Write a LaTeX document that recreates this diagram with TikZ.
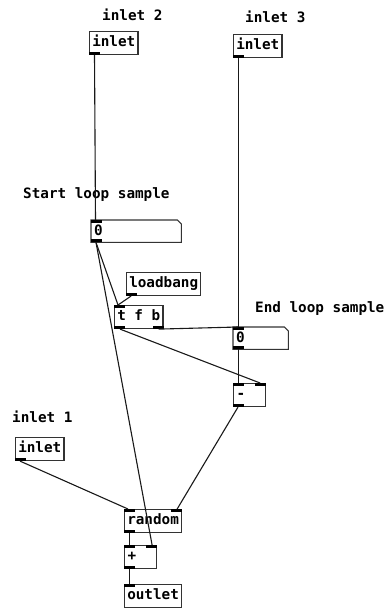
\documentclass[tikz,border=0pt]{standalone}
\usepackage{fontspec}
\usepackage{tikz}
\usetikzlibrary{calc}
\newfontfamily\pdfont{DejaVu Sans Mono}

\begin{document}
\begin{tikzpicture}
    [
        x=1pt, y=-1pt,
        pdtext/.style={font=\pdfont\bfseries\fontsize{14.3}{16}\selectfont, text=black},
        objbox/.style={pdtext, draw=black!80, line width=1.1pt, anchor=north west,
            inner xsep=2.7pt, inner ysep=0pt, minimum height=23pt, text height=11pt, text depth=3.5pt},
        numbox/.style={pdtext, anchor=north west, inner xsep=3pt, inner ysep=0pt, align=left,
            minimum height=22pt, text height=11pt, text depth=3pt},
        comment/.style={pdtext, anchor=west, inner sep=0pt},
        wire/.style={line width=1.1pt, black!90}
    ]
    \fill[white] (0,0) rectangle (385,608);
    \useasboundingbox (0,0) rectangle (385,608);

    % comments
    \node[comment] (c2) at (102,15) {inlet 2};
    \node[comment] (c3) at (245,17) {inlet 3};
    \node[comment] (cstart) at (23,195) {Start loop sample};
    \node[comment] (cend) at (255,309) {End loop sample};
    \node[comment] (c1) at (12,417) {inlet 1};

    % objects
    \node[objbox] (in2) at (89,31) {inlet};
    \node[objbox] (in3) at (233,34) {inlet};
    \node[numbox, text width=84pt] (numA) at (91,220) {0};
    \node[objbox] (lb) at (126,272) {loadbang};
    \node[objbox] (tfb) at (114,305) {t f b};
    \node[numbox, text width=49pt] (numB) at (233,327) {0};
    \node[objbox, minimum width=32pt, align=left, text width=26pt] (minus) at (233,383) {-};
    \node[objbox] (in1) at (15,437) {inlet};
    \node[objbox] (rnd) at (124,509) {random};
    \node[objbox, minimum width=32pt, align=left, text width=26pt] (plus) at (124,545) {+};
    \node[objbox] (out) at (124,584) {outlet};

    % number box outlines
    \foreach \n in {numA,numB}
        \draw[black!80, line width=1.1pt] (\n.north west) -- ($(\n.north east)+(-4,0)$)
            -- ($(\n.north east)+(0,4)$) -- (\n.south east) -- (\n.south west) -- cycle;

    % inlets and outlets
    \foreach \n in {numA,numB,tfb,minus,rnd,plus,out}
        \fill (\n.north west) rectangle ++(11,3);
    \foreach \n in {minus,rnd,plus}
        \fill (\n.north east) rectangle ++(-11,3);
    \foreach \n in {in1,in2,in3,numA,numB,lb,tfb,minus,rnd,plus}
        \fill (\n.south west) rectangle ++(11,-3);
    \fill (tfb.south east) rectangle ++(-11,-3);

    % connections
    \draw[wire] ($(in2.south west)+(5.5,0)$) -- ($(numA.north west)+(4.5,0)$);
    \draw[wire] ($(in3.south west)+(5.5,0)$) -- ($(numB.north west)+(5.5,0)$);
    \draw[wire] ($(numA.south west)+(5,0)$) -- ($(tfb.north west)+(4,0)$);
    \draw[wire] ($(lb.south west)+(5,0)$) -- ($(tfb.north west)+(4,0)$);
    \draw[wire] ($(numA.south west)+(5,0)$) -- ($(plus.north east)+(-5,0)$);
    \draw[wire] ($(tfb.south east)+(-5,0)$) -- ($(numB.north west)+(5,0)$);
    \draw[wire] ($(tfb.south west)+(6,0)$) -- ($(minus.north east)+(-6,0)$);
    \draw[wire] ($(numB.south west)+(5.5,0)$) -- ($(minus.north west)+(5.5,0)$);
    \draw[wire] ($(minus.south west)+(5,0)$) -- ($(rnd.north east)+(-5,0)$);
    \draw[wire] ($(in1.south west)+(5,0)$) -- ($(rnd.north west)+(4,0)$);
    \draw[wire] ($(rnd.south west)+(5.5,0)$) -- ($(plus.north west)+(5.5,0)$);
    \draw[wire] ($(plus.south west)+(5.5,0)$) -- ($(out.north west)+(5.5,0)$);
\end{tikzpicture}
\end{document}
